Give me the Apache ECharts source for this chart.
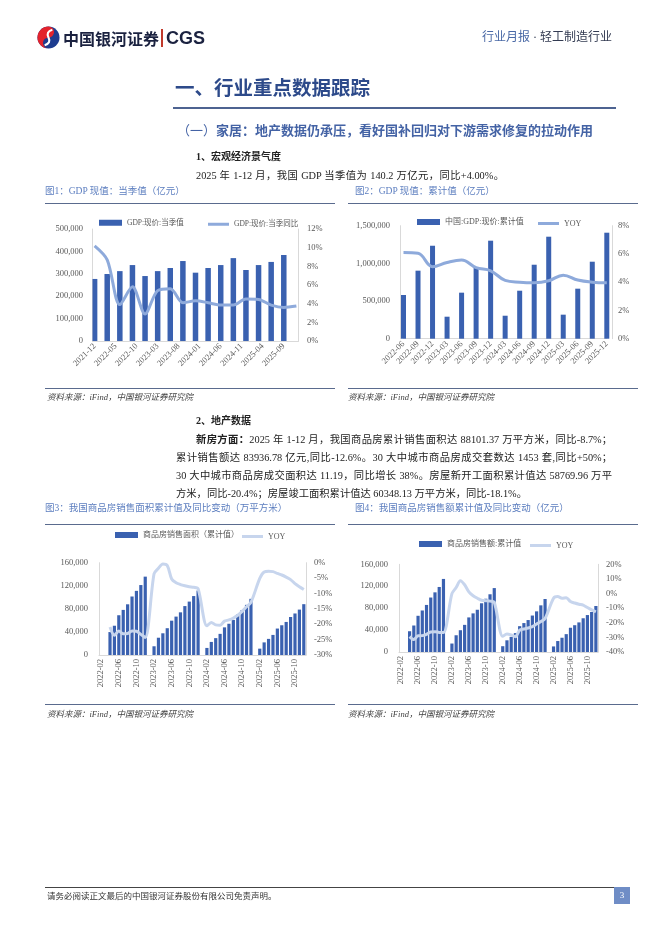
<!DOCTYPE html>
<html><head><meta charset="utf-8">
<script src="https://cdn.jsdelivr.net/npm/echarts@6/dist/echarts.min.js"></script>
<style>
html,body{margin:0;padding:0;background:#fff;}
#page{position:relative;width:662px;height:936px;overflow:hidden;font-family:"Liberation Serif","Noto Sans CJK SC",serif;color:#222;}
#chart{position:absolute;left:0;top:0;width:662px;height:936px;}
.t{position:absolute;white-space:nowrap;line-height:1;}
.j{position:absolute;line-height:1;text-align:justify;text-align-last:justify;white-space:normal;overflow:visible;}
.hl{position:absolute;height:1px;background:#5a6b8e;}
.cap{color:#5b7dbf;font-size:9.5px;}
.src{color:#444;font-size:8.5px;font-style:italic;}
</style></head>
<body>
<div id="page">
<div id="chart"></div>

<svg class="t" style="left:37px;top:26px" width="23" height="23" viewBox="0 0 24 24">
  <circle cx="12" cy="12" r="11.5" fill="#1d3c8f"/>
  <path d="M12 0.5 A11.5 11.5 0 0 0 12 23.5 A5.75 5.75 0 0 1 12 12 A5.75 5.75 0 0 0 12 0.5Z" fill="#e3232c"/>
  <path d="M16 4 Q9 6 12 12 Q15 18 8 20" stroke="#fff" stroke-width="2.2" fill="none"/>
</svg>
<div class="t" style="left:63px;top:30px;font-size:16px;font-weight:bold;color:#1b2240;font-family:'Noto Sans CJK SC'">中国银河证券</div>
<div class="t" style="left:161px;top:29px;width:1.5px;height:18px;background:#c0392b"></div>
<div class="t" style="left:166px;top:29px;font-size:18px;font-weight:bold;color:#1b2240;font-family:'Liberation Sans',sans-serif">CGS</div>
<div class="t" style="left:482px;top:31px;font-size:12px;color:#333b52"><span style="color:#4a69a6">行业月报</span> · 轻工制造行业</div>

<div class="t" style="left:175px;top:79px;font-size:19.5px;font-weight:bold;color:#2d4a8a">一、行业重点数据跟踪</div>
<div class="t" style="left:173px;top:106.5px;width:443px;height:2.5px;background:#4d6391"></div>
<div class="t" style="left:177px;top:123.5px;font-size:13px;font-weight:bold;color:#4463a5"><span style="font-weight:normal">（一）</span>家居：地产数据仍承压，看好国补回归对下游需求修复的拉动作用</div>

<div class="t" style="left:196px;top:152px;font-size:10px;font-weight:bold">1、宏观经济景气度</div>
<div class="j" style="left:196px;top:170.5px;width:308px;font-size:10.3px">2025 年 1-12 月，我国 GDP 当季值为 140.2 万亿元，同比+4.00%。</div>

<div class="t cap" style="left:45px;top:187px">图1：GDP 现值：当季值（亿元）</div>
<div class="t cap" style="left:355px;top:187px">图2：GDP 现值：累计值（亿元）</div>
<div class="hl" style="left:45px;top:203px;width:290px"></div>
<div class="hl" style="left:348px;top:203px;width:290px"></div>
<div class="hl" style="left:45px;top:388px;width:290px"></div>
<div class="hl" style="left:348px;top:388px;width:290px"></div>
<div class="t src" style="left:47px;top:393px">资料来源：iFind，中国银河证券研究院</div>
<div class="t src" style="left:348px;top:393px">资料来源：iFind，中国银河证券研究院</div>

<div class="t" style="left:196px;top:416px;font-size:10px;font-weight:bold">2、地产数据</div>
<div class="j" style="left:196px;top:434.5px;width:416px;font-size:10.3px"><b>新房方面：</b>2025 年 1-12 月，我国商品房累计销售面积达 88101.37 万平方米，同比-8.7%；</div>
<div class="j" style="left:176px;top:452.5px;width:436px;font-size:10.3px">累计销售额达 83936.78 亿元,同比-12.6%。30 大中城市商品房成交套数达 1453 套,同比+50%；</div>
<div class="j" style="left:176px;top:470.5px;width:436px;font-size:10.3px">30 大中城市商品房成交面积达 11.19，同比增长 38%。房屋新开工面积累计值达 58769.96 万平</div>
<div class="t" style="left:176px;top:488.5px;font-size:10.3px">方米，同比-20.4%；房屋竣工面积累计值达 60348.13 万平方米，同比-18.1%。</div>

<div class="t cap" style="left:45px;top:504px">图3：我国商品房销售面积累计值及同比变动（万平方米）</div>
<div class="t cap" style="left:355px;top:504px">图4：我国商品房销售额累计值及同比变动（亿元）</div>
<div class="hl" style="left:45px;top:524px;width:290px"></div>
<div class="hl" style="left:348px;top:524px;width:290px"></div>
<div class="hl" style="left:45px;top:704px;width:290px"></div>
<div class="hl" style="left:348px;top:704px;width:290px"></div>
<div class="t src" style="left:47px;top:710px">资料来源：iFind，中国银河证券研究院</div>
<div class="t src" style="left:348px;top:710px">资料来源：iFind，中国银河证券研究院</div>

<div class="t" style="left:45px;top:887px;width:585px;height:1px;background:#444"></div>
<div class="t" style="left:47px;top:892px;font-size:8.5px;color:#333">请务必阅读正文最后的中国银河证券股份有限公司免责声明。</div>
<div class="t" style="left:614px;top:887px;width:16px;height:17px;background:#6f8dc6;color:#fff;font-size:9px;text-align:center;line-height:17px">3</div>
</div>

<script>
// ---------- data ----------
const gdpQMonths = ['2021-12','2022-03','2022-06','2022-09','2022-12','2023-03','2023-06','2023-09','2023-12','2024-03','2024-06','2024-09','2024-12','2025-03','2025-06','2025-09','2025-12'];
const gdpQValue = [277000,299000,312000,339000,290000,312000,326000,357000,305000,326000,339000,370000,317000,339000,353000,384000];
const gdpQYoy = [10.2,8.7,3.9,5.8,2.9,5.4,5.6,4.1,4.3,4.1,3.85,3.85,4.5,4.45,3.85,3.6,3.75];

const gdpCumCats = ['2022-06','2022-09','2022-12','2023-03','2023-06','2023-09','2023-12','2024-03','2024-06','2024-09','2024-12','2025-03','2025-06','2025-09','2025-12'];
const gdpCumValue = [580000,903000,1234000,292000,611000,946000,1301000,305000,637000,982000,1354000,319000,664000,1022000,1407000];
const gdpCumYoy = [6.1,6.05,5.1,5.4,5.57,5.03,4.81,4.13,4.0,3.96,4.1,4.5,4.15,4.0,3.96];

const estateMonths = [
 '2022-04','2022-05','2022-06','2022-07','2022-08','2022-09','2022-10','2022-11','2022-12',
 '2023-02','2023-03','2023-04','2023-05','2023-06','2023-07','2023-08','2023-09','2023-10','2023-11','2023-12',
 '2024-02','2024-03','2024-04','2024-05','2024-06','2024-07','2024-08','2024-09','2024-10','2024-11','2024-12',
 '2025-02','2025-03','2025-04','2025-05','2025-06','2025-07','2025-08','2025-09','2025-10','2025-11','2025-12'];
const areaValue = [
 39768,50738,68923,78178,87890,101422,111179,121250,135837,
 15133,29946,37636,46440,59515,66563,73949,84806,92579,102169,111735,
 12245,22668,29252,36642,47916,54160,60798,70284,77930,86924,97385,
 10988,21869,27939,34809,45851,51560,57304,65835,71982,78702,88101];
const areaYoy = [
 -20.9,-23.6,-22.2,-23.1,-23.0,-22.2,-22.3,-23.3,-24.3,
 -3.6,-1.8,-0.4,-0.9,-5.3,-6.5,-7.1,-7.5,-7.8,-8.0,-8.5,
 -20.5,-19.4,-20.2,-20.3,-19.0,-18.6,-18.0,-17.1,-15.8,-14.3,-12.9,
 -5.1,-3.0,-2.8,-2.9,-3.5,-4.0,-4.7,-5.5,-6.8,-7.8,-8.7];
const amountValue = [
 37884,48337,66072,75763,85870,99380,108832,118648,133308,
 15449,30545,39750,49505,63092,70450,77076,88931,97161,105318,116622,
 10566,21355,27609,34521,47133,52772,58284,66528,74155,85117,96750,
 10177,19996,26009,32587,44241,48878,53990,61543,67398,73041,83937];
const amountYoy = [
 -29.5,-31.5,-28.9,-28.8,-27.9,-26.3,-26.1,-26.6,-26.7,
 -0.1,4.1,8.8,6.0,1.1,-1.5,-3.2,-4.6,-4.9,-5.2,-6.0,
 -29.3,-27.6,-28.3,-29.5,-25.0,-24.3,-23.6,-22.7,-20.9,-19.2,-17.1,
 -3.2,-2.1,-3.2,-2.8,-5.5,-6.5,-7.3,-7.9,-9.6,-11.2,-12.6];

// ---------- helpers ----------
function monthRange(a, b) {
  const r = []; let [y, m] = a.split('-').map(Number); const [ye, me] = b.split('-').map(Number);
  while (y < ye || (y === ye && m <= me)) { r.push(y + '-' + String(m).padStart(2, '0')); m++; if (m > 12) { m = 1; y++; } }
  return r;
}
const pairs = (cats, vals) => vals.map((v, i) => [cats[i], v]);
const months1 = monthRange('2021-12', '2025-12');
const months3 = monthRange('2022-02', '2025-12');

const FONT = '"Liberation Serif", "Noto Sans CJK SC", serif';
const BAR = '#3a61b0';
const LINE1 = '#8eaadb';
const LINE2 = '#c7d5ed';
const AX = '#d9d9d9';
const lab = (extra) => Object.assign({ color: '#595959', fontSize: 8.5, fontFamily: FONT }, extra || {});
const fmtNum = v => v.toLocaleString('en-US');
const fmtPct = v => v + '%';

function xCat(grid, data, bg, labelExtra) {
  return { type: 'category', gridIndex: grid, data: data, boundaryGap: bg,
    axisTick: { show: false }, axisLine: { show: true, onZero: false, lineStyle: { color: AX } },
    axisLabel: lab(labelExtra), splitLine: { show: false } };
}
function yVal(grid, pos, min, max, step, fmt, margin, offset) {
  return { type: 'value', gridIndex: grid, position: pos, min: min, max: max, interval: step, offset: offset || 0,
    axisLine: { show: true, lineStyle: { color: AX } }, axisTick: { show: false },
    splitLine: { show: false }, axisLabel: lab({ formatter: fmt, margin: margin }) };
}
function legendItem(name, left, top, isLine, fs) {
  return { left: left, top: top, data: [name], icon: 'rect', itemWidth: isLine ? 21 : 23, itemHeight: isLine ? 3 : 6,
    itemGap: 4, padding: 0, textStyle: { color: '#595959', fontSize: fs || 8, fontFamily: FONT }, selectedMode: false };
}

const option = {
  animation: false,
  grid: [
    { left: 92.5, top: 229, width: 206, height: 112 },
    { left: 403.5, top: 225.7, width: 203.3, height: 113 },
    { left: 99, top: 562.7, width: 207, height: 92.3 },
    { left: 399, top: 564.3, width: 199, height: 87.7 }
  ],
  legend: [
    legendItem('GDP:现价:当季值', 99, 219, false, 7.5),
    legendItem('GDP:现价:当季同比', 208, 220.5, true, 7.5),
    legendItem('中国:GDP:现价:累计值', 417, 218, false),
    legendItem('YOY ', 538, 219.5, true),
    legendItem('商品房销售面积（累计值）', 115, 531, false),
    legendItem('YOY', 242, 532.5, true),
    legendItem('商品房销售额:累计值', 419, 540, false),
    legendItem('YOY  ', 530, 541.5, true)
  ],
  xAxis: [
    xCat(0, months1, true, { interval: 4, rotate: 45, margin: 4 }),
    xCat(1, gdpCumCats, false, { interval: 0, rotate: 45, margin: 4 }),
    xCat(2, months3, true, { interval: 3, rotate: 90, margin: 4 }),
    xCat(3, months3, true, { interval: 3, rotate: 90, margin: 4 })
  ],
  yAxis: [
    yVal(0, 'left', 0, 500000, 100000, fmtNum, 9.5),
    yVal(0, 'right', 0, 12, 2, fmtPct, 8.5),
    yVal(1, 'left', 0, 1500000, 500000, fmtNum, 10, 3.5),
    yVal(1, 'right', 0, 8, 2, fmtPct, 6, 5.3),
    yVal(2, 'left', 0, 160000, 40000, fmtNum, 11),
    yVal(2, 'right', -30, 0, 5, fmtPct, 8),
    yVal(3, 'left', 0, 160000, 40000, fmtNum, 11),
    yVal(3, 'right', -40, 20, 10, fmtPct, 8)
  ],
  series: [
    { name: 'GDP:现价:当季值', type: 'bar', xAxisIndex: 0, yAxisIndex: 0, barWidth: 5.5,
      itemStyle: { color: BAR }, data: pairs(gdpQMonths, gdpQValue) },
    { name: 'GDP:现价:当季同比', type: 'line', xAxisIndex: 0, yAxisIndex: 1, smooth: 0.3, symbol: 'none',
      lineStyle: { width: 3, color: LINE1 }, itemStyle: { color: LINE1 }, data: pairs(gdpQMonths, gdpQYoy) },
    { name: '中国:GDP:现价:累计值', type: 'bar', xAxisIndex: 1, yAxisIndex: 2, barWidth: 5, clip: false,
      itemStyle: { color: BAR }, data: gdpCumValue },
    { name: 'YOY ', type: 'line', xAxisIndex: 1, yAxisIndex: 3, smooth: 0.4, symbol: 'none',
      lineStyle: { width: 3, color: LINE1 }, itemStyle: { color: LINE1 }, data: gdpCumYoy },
    { name: '商品房销售面积（累计值）', type: 'bar', xAxisIndex: 2, yAxisIndex: 4, barWidth: 3.2,
      itemStyle: { color: BAR }, data: pairs(estateMonths, areaValue) },
    { name: 'YOY', type: 'line', xAxisIndex: 2, yAxisIndex: 5, smooth: 0.3, symbol: 'none',
      lineStyle: { width: 3, color: LINE2 }, itemStyle: { color: LINE2 }, data: pairs(estateMonths, areaYoy) },
    { name: '商品房销售额:累计值', type: 'bar', xAxisIndex: 3, yAxisIndex: 6, barWidth: 3.2,
      itemStyle: { color: BAR }, data: pairs(estateMonths, amountValue) },
    { name: 'YOY  ', type: 'line', xAxisIndex: 3, yAxisIndex: 7, smooth: 0.3, symbol: 'none',
      lineStyle: { width: 3, color: LINE2 }, itemStyle: { color: LINE2 }, data: pairs(estateMonths, amountYoy) }
  ]
};
const chart = echarts.init(document.getElementById('chart'), null, { renderer: 'canvas' });
chart.setOption(option);
</script>
</body></html>
